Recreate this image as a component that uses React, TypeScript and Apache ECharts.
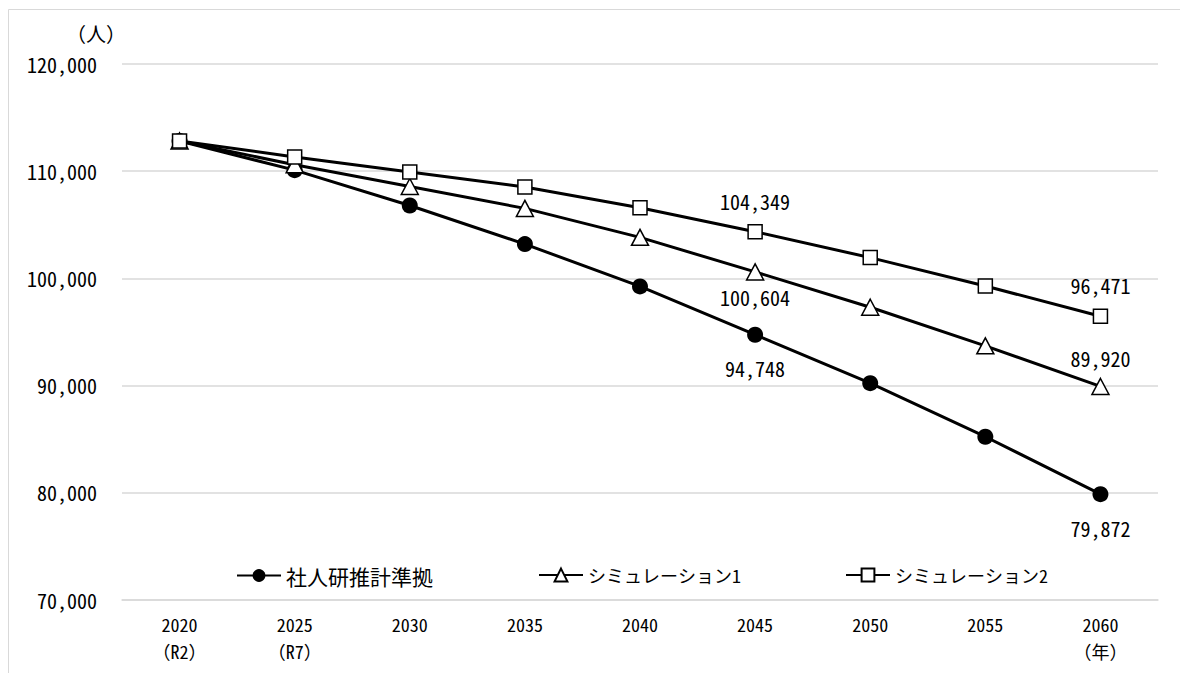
import React, { useEffect, useRef } from "react";
import * as echarts from "echarts";

const years = ["2020", "2025", "2030", "2035", "2040", "2045", "2050", "2055", "2060"];
const yearSubLabels = ["（R2）", "（R7）", "", "", "", "", "", "", "（年）"];
const seriesNames = ["社人研推計準拠", "シミュレーション1", "シミュレーション2"];
const ipssValues = [112817, 110100, 106800, 103200, 99250, 94748, 90230, 85230, 79872];
const sim1Values = [112817, 110600, 108570, 106530, 103830, 100604, 97310, 93710, 89920];
const sim2Values = [112817, 111330, 109930, 108530, 106590, 104349, 101940, 99290, 96471];
const yTicks = { min: 70000, max: 120000, interval: 10000 };
const unitLabel = "（人）";

// labelled points: index -> label position
const ipssLabels: Record<number, string> = { 5: "bottom", 8: "bottom" };
const sim1Labels: Record<number, string> = { 5: "bottom", 8: "top" };
const sim2Labels: Record<number, string> = { 5: "top", 8: "top" };

const FONT = "'Noto Sans Mono CJK JP', 'Noto Sans CJK JP', sans-serif";
const fmt = (v: number) => v.toLocaleString("en-US");

function buildData(values: number[], labels: Record<number, string>, distances: Record<string, number>) {
  return values.map((v, i) => {
    const pos = labels[i];
    if (!pos) return v;
    return {
      value: v,
      label: {
        show: true,
        position: pos,
        distance: distances[pos],
        formatter: (p: any) => fmt(p.value),
        fontSize: 20,
        lineHeight: 20,
        color: "#000",
        fontFamily: FONT,
      },
    };
  });
}

export default function App() {
  const ref = useRef<HTMLDivElement>(null);
  useEffect(() => {
    if (!ref.current) return;
    const chart = echarts.init(ref.current, null, { renderer: "svg" });
    const lineStyle = { color: "#000", width: 3 };
    chart.setOption({
      animation: false,
      backgroundColor: "#fff",
      graphic: [
        {
          type: "rect",
          shape: { x: 8.5, y: 9.5, width: 1200, height: 700 },
          style: { fill: "none", stroke: "#d9d9d9", lineWidth: 1 },
          silent: true,
        },
        {
          type: "text",
          x: 96,
          y: 33,
          style: {
            text: unitLabel,
            fontSize: 20,
            fontFamily: FONT,
            fill: "#000",
            textAlign: "center",
            textVerticalAlign: "middle",
          },
        },
      ],
      grid: { left: 122, right: 22, top: 64, bottom: 73, containLabel: false },
      legend: [
        {
          data: [seriesNames[0]],
          left: 236,
          top: 565,
          padding: 0,
          itemWidth: 44,
          itemHeight: 16,
          textStyle: { fontSize: 21, fontFamily: FONT, color: "#000" },
        },
        {
          data: [seriesNames[1]],
          left: 538,
          top: 566,
          padding: 0,
          itemWidth: 44,
          itemHeight: 16,
          textStyle: { fontSize: 18, fontFamily: FONT, color: "#000" },
        },
        {
          data: [seriesNames[2]],
          left: 845,
          top: 566,
          padding: 0,
          itemWidth: 44,
          itemHeight: 16,
          textStyle: { fontSize: 18, fontFamily: FONT, color: "#000" },
        },
      ],
      xAxis: {
        type: "category",
        data: years,
        boundaryGap: true,
        axisLine: { show: true, lineStyle: { color: "#d9d9d9", width: 1.5 } },
        axisTick: { show: false },
        axisLabel: {
          margin: 10,
          fontSize: 18,
          lineHeight: 27,
          fontFamily: FONT,
          color: "#000",
          formatter: (v: string, i: number) => (yearSubLabels[i] ? v + "\n" + yearSubLabels[i] : v),
        },
      },
      yAxis: {
        type: "value",
        min: yTicks.min,
        max: yTicks.max,
        interval: yTicks.interval,
        axisLine: { show: false },
        axisTick: { show: false },
        splitLine: { lineStyle: { color: "#d9d9d9", width: 1.5 } },
        axisLabel: {
          margin: 25,
          fontSize: 20,
          fontFamily: FONT,
          color: "#000",
          formatter: (v: number) => fmt(v),
        },
      },
      series: [
        {
          name: seriesNames[0],
          type: "line",
          data: buildData(ipssValues, ipssLabels, { top: 9, bottom: 16 }),
          symbol: "circle",
          symbolSize: 16,
          lineStyle,
          itemStyle: { color: "#000" },
          color: "#000",
        },
        {
          name: seriesNames[1],
          type: "line",
          data: buildData(sim1Values, sim1Labels, { top: 9, bottom: 7 }),
          symbol: "triangle",
          symbolSize: [17, 16],
          lineStyle,
          itemStyle: { color: "#fff", borderColor: "#000", borderWidth: 1.5 },
          color: "#000",
        },
        {
          name: seriesNames[2],
          type: "line",
          data: buildData(sim2Values, sim2Labels, { top: 13, bottom: 13 }),
          symbol: "rect",
          symbolSize: 14,
          lineStyle,
          itemStyle: { color: "#fff", borderColor: "#000", borderWidth: 1.5 },
          color: "#000",
        },
      ],
    });
    return () => chart.dispose();
  }, []);
  return (
    <div
      ref={ref}
      style={{ position: "fixed", left: 0, top: 0, width: 1180, height: 673, background: "#fff" }}
    />
  );
}
